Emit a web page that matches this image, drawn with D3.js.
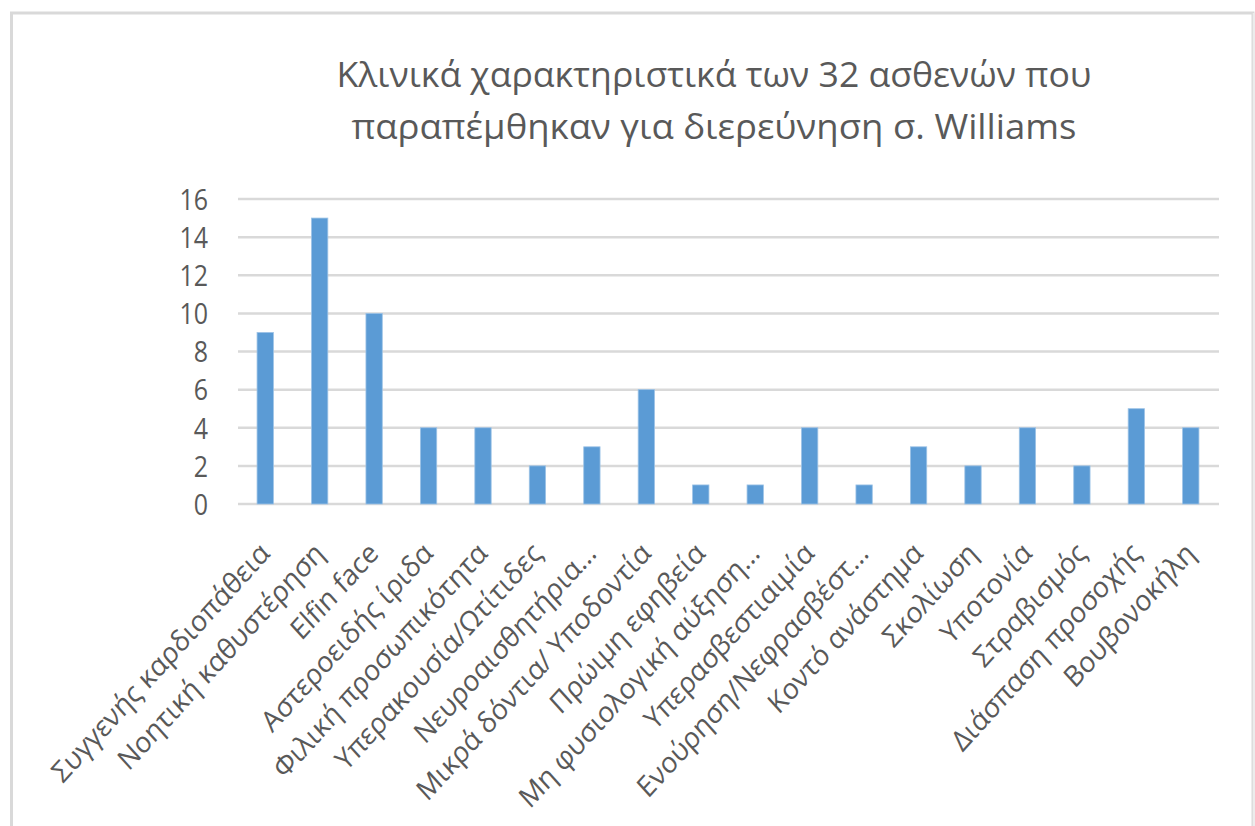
<!DOCTYPE html>
<html>
<head>
<meta charset="utf-8">
<script src="https://cdn.jsdelivr.net/npm/d3@7"></script>
<style>
  html, body { margin: 0; padding: 0; background: #fff; }
  svg { display: block; }
  text { font-family: "Open Sans", "Noto Sans", sans-serif; fill: #595959; }
</style>
</head>
<body>
<svg id="chart" width="1255" height="826"></svg>
<script>
const titleLines = ["Κλινικά χαρακτηριστικά των 32 ασθενών που", "παραπέμθηκαν για διερεύνηση σ. Williams"];
const categories = [
  "Συγγενής καρδιοπάθεια",
  "Νοητική καθυστέρηση",
  "Elfin face",
  "Αστεροειδής ίριδα",
  "Φιλική προσωπικότητα",
  "Υπερακουσία/Ωτίτιδες",
  "Νευροαισθητήρια…",
  "Μικρά δόντια/ Υποδοντία",
  "Πρώιμη εφηβεία",
  "Μη φυσιολογική αύξηση…",
  "Υπερασβεστιαιμία",
  "Ενούρηση/Νεφρασβέστ…",
  "Κοντό ανάστημα",
  "Σκολίωση",
  "Υποτονία",
  "Στραβισμός",
  "Διάσπαση προσοχής",
  "Βουβονοκήλη"
];
const values = [9, 15, 10, 4, 4, 2, 3, 6, 1, 1, 4, 1, 3, 2, 4, 2, 5, 4];
const yTicks = [0, 2, 4, 6, 8, 10, 12, 14, 16];

const svg = d3.select("#chart");
const W = 1255, H = 826;

// chart frame
svg.append("rect").attr("x", 11.5).attr("y", 13).attr("width", 1241.5).attr("height", 830)
  .attr("fill", "#fff").attr("stroke", "#d9d9d9").attr("stroke-width", 3);
svg.append("line").attr("x1", 1253.5).attr("x2", 1253.5).attr("y1", 13).attr("y2", H)
  .attr("stroke", "#ececec").attr("stroke-width", 1.5);

const x = d3.scaleBand().domain(categories).range([238, 1218]).paddingInner(0.7).paddingOuter(0.35);
const y = d3.scaleLinear().domain([0, 16]).range([504, 199]);

// gridlines
svg.append("g").selectAll("line").data(yTicks).join("line")
  .attr("x1", 238).attr("x2", 1219)
  .attr("y1", d => y(d)).attr("y2", d => y(d))
  .attr("stroke", "#d9d9d9").attr("stroke-width", 2.5);

// y labels
svg.append("g").selectAll("text").data(yTicks).join("text")
  .attr("transform", d => `translate(208,${y(d)}) scale(1,1.2)`)
  .attr("text-anchor", "end").attr("dy", "0.36em")
  .attr("font-size", 25)
  .text(d => d);

// bars
svg.append("g").selectAll("rect").data(values).join("rect")
  .attr("x", (d, i) => x(categories[i]))
  .attr("width", x.bandwidth())
  .attr("y", d => y(d))
  .attr("height", d => y(0) - y(d))
  .attr("fill", "#5b9bd5")
  .attr("stroke", "#9dc3e6").attr("stroke-width", 0.8);

// x labels
svg.append("g").selectAll("text").data(categories).join("text")
  .attr("transform", d => `translate(${x(d) + x.bandwidth() / 2 + 6},${555}) scale(1,1.1) rotate(-45)`)
  .attr("text-anchor", "end")
  .attr("font-size", 26.5)
  .text(d => d);

// title
const tl = [755, 725];
svg.append("g").selectAll("text").data(titleLines).join("text")
  .attr("transform", (d, i) => `translate(714,${[87, 139][i]}) scale(1,1.35)`)
  .attr("text-anchor", "middle")
  .attr("font-size", 26)
  .attr("textLength", (d, i) => tl[i])
  .attr("lengthAdjust", "spacingAndGlyphs")
  .text(d => d);
</script>
</body>
</html>
